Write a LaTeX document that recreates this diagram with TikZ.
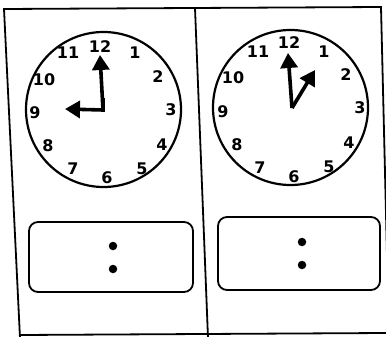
\documentclass[tikz,border=0pt]{standalone}
\usepackage{fontspec}
\newfontfamily\clockfont{DejaVu Sans}
\usetikzlibrary{arrows.meta}
\begin{document}
\begin{tikzpicture}[x=1pt,y=-1pt,
  frameline/.style={line width=1.8pt},
  dial/.style={line width=2.2pt},
  num/.style={font=\clockfont\bfseries\fontsize{16}{16}\selectfont, inner sep=0pt},
  hand/.style={line width=3.6pt, -{Triangle[width=17pt,length=15pt]}},
  answerbox/.style={draw, line width=1.8pt, rounded corners=9pt},
  dot/.style={circle, fill=black, inner sep=0pt, minimum size=8.5pt}]
\useasboundingbox (0,0) rectangle (386,337);
% frame
\coordinate (tl) at (4,9);
\coordinate (bl) at (20,338);
\coordinate (tr) at (381,7);
\coordinate (br) at (389,338);
\coordinate (mt) at (195,8);
\coordinate (mb) at (208,338);
\coordinate (bbl) at (20,335);
\coordinate (bbr) at (386,333);
\begin{scope}
\clip (0,0) rectangle (386,337);
\draw[frameline] (bl) -- (tl) -- (tr) -- (br);
\draw[frameline] (mt) -- (mb);
\draw[frameline] (bbl) -- (bbr);
\end{scope}
% left clock
\draw[dial] (103.5,109.5) circle (77.5);
\coordinate (lc) at (103,110);
\node[num] (l12) at (100,47) {12};
\node[num] (l1) at (135,53) {1};
\node[num] (l2) at (158,77) {2};
\node[num] (l3) at (171,110) {3};
\node[num] (l4) at (162,145) {4};
\node[num] (l5) at (142,169) {5};
\node[num] (l6) at (107,178) {6};
\node[num] (l7) at (73,169) {7};
\node[num] (l8) at (48,146) {8};
\node[num] (l9) at (35,113) {9};
\node[num] (l10) at (44,80) {10};
\node[num] (l11) at (68,53) {11};
\coordinate (lm) at (100,55);
\coordinate (lh) at (65,109);
\draw[hand] (lc) -- (lm);
\draw[hand] (lc) -- (lh);
\draw[line width=3.6pt] (103,111.8) -- (103,98);
% right clock
\draw[dial] (290.5,107.5) circle (77.5);
\coordinate (rc) at (292,108);
\node[num] (r12) at (289,43) {12};
\node[num] (r1) at (324,52) {1};
\node[num] (r2) at (346,75) {2};
\node[num] (r3) at (360,108) {3};
\node[num] (r4) at (349,143) {4};
\node[num] (r5) at (329,167) {5};
\node[num] (r6) at (294,177) {6};
\node[num] (r7) at (260,168) {7};
\node[num] (r8) at (237,145) {8};
\node[num] (r9) at (223,112) {9};
\node[num] (r10) at (233,78) {10};
\node[num] (r11) at (258,52) {11};
\coordinate (rm) at (288,53);
\coordinate (rh) at (315,70);
\draw[hand] (rc) -- (rm);
\draw[hand] (rc) -- (rh);
% answer boxes
\node[answerbox, minimum width=164pt, minimum height=70pt] (lbox) at (111,257) {};
\node[answerbox, minimum width=162pt, minimum height=73pt] (rbox) at (299,253.5) {};
\node[dot] (ld1) at (113,246) {};
\node[dot] (ld2) at (113,269) {};
\node[dot] (rd1) at (302,242) {};
\node[dot] (rd2) at (302,265) {};
\end{tikzpicture}
\end{document}
